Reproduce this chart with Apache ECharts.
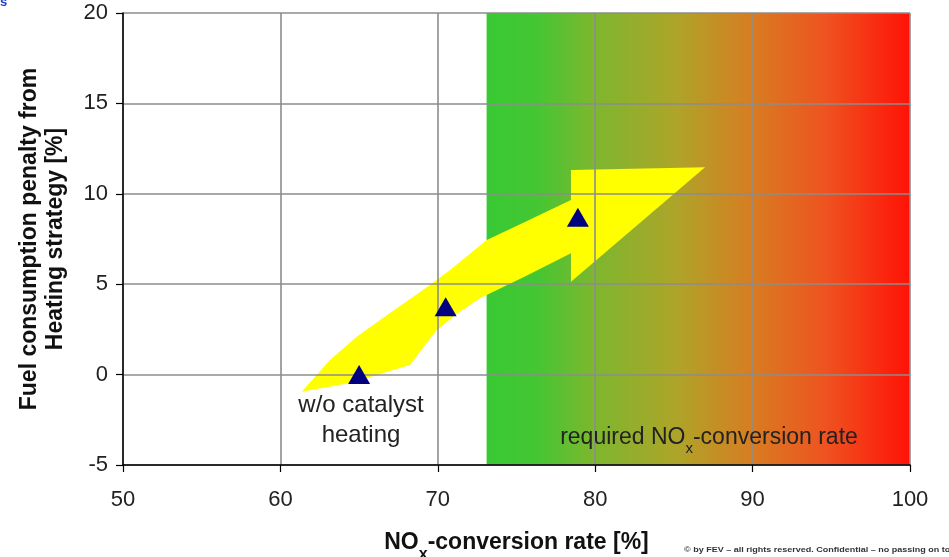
<!DOCTYPE html>
<html>
<head>
<meta charset="utf-8">
<script src="https://cdn.jsdelivr.net/npm/echarts@6/dist/echarts.min.js"></script>
<style>
  html, body { margin: 0; padding: 0; background: #ffffff; }
  #chart { width: 949px; height: 557px; }
</style>
</head>
<body>
<div id="chart"></div>
<script>
// NOx conversion [%] and fuel penalty [%] of the three heating strategies
const noxConversion = [65.0, 70.5, 78.9];
const fuelPenalty = [0.0, 3.75, 8.7];

// axis ranges and ticks
const xTicks = [50, 60, 70, 80, 90, 100];
const yTicks = [-5, 0, 5, 10, 15, 20];

// band of required NOx conversion
const requiredBand = [73.1, 100];

// outline of the trend arrow, in axis units (x: NOx %, y: penalty %)
const arrowX = [61.35, 63.15, 64.85, 66.96, 69.06, 70.78, 73.11, 75.8, 78.46, 78.46, 86.98, 78.46, 78.46, 75.6, 72.68, 71.2, 69.93, 68.23, 64.42];
const arrowY = [-0.95, 0.81, 2.10, 3.41, 4.68, 5.79, 7.44, 8.55, 9.66, 11.32, 11.47, 5.14, 6.71, 5.45, 4.22, 3.35, 2.47, 0.53, -0.46];

const chart = echarts.init(document.getElementById('chart'), null, { renderer: 'canvas' });

const font = 'Liberation Sans, Arial, sans-serif';

chart.setOption({
  animation: false,
  backgroundColor: '#ffffff',
  grid: { left: 123, right: 39, top: 13, bottom: 92, containLabel: false, outerBoundsMode: 'none' },
  xAxis: {
    type: 'value',
    min: xTicks[0], max: xTicks[xTicks.length - 1], interval: 10,
    z: 3,
    axisLine: { onZero: false, lineStyle: { color: '#000', width: 1.5 } },
    axisTick: { show: true, inside: false, length: 7, lineStyle: { color: '#000', width: 1.2 } },
    axisLabel: { margin: 24, fontSize: 22, color: '#222', fontFamily: font },
    splitLine: { show: true, lineStyle: { color: '#8c8c8c', width: 1.6 } },
    name: '{m|NO}{s|x}{m|-conversion rate [%]}',
    nameLocation: 'middle',
    nameGap: 58,
    nameTextStyle: {
      rich: {
        m: { fontSize: 23, fontWeight: 'bold', fontFamily: font, color: '#111', lineHeight: 28, verticalAlign: 'middle' },
        s: { fontSize: 16, fontWeight: 'bold', fontFamily: font, color: '#111', lineHeight: 40, verticalAlign: 'bottom' }
      }
    }
  },
  yAxis: {
    type: 'value',
    min: yTicks[0], max: yTicks[yTicks.length - 1], interval: 5,
    z: 3,
    axisLine: { onZero: false, lineStyle: { color: '#000', width: 1.5 } },
    axisTick: { show: true, inside: false, length: 7, lineStyle: { color: '#000', width: 1.2 } },
    axisLabel: { margin: 15, fontSize: 22, color: '#222', fontFamily: font },
    splitLine: { show: true, lineStyle: { color: '#8c8c8c', width: 1.6 } },
    name: 'Fuel consumption penalty from\nHeating strategy [%]',
    nameLocation: 'middle',
    nameGap: 54,
    nameRotate: 90,
    nameTextStyle: { fontSize: 23, fontWeight: 'bold', fontFamily: font, color: '#111', lineHeight: 26 }
  },
  series: [
    {
      // colour band for the required conversion range
      type: 'line',
      data: [],
      z: 1,
      silent: true,
      markArea: {
        silent: true,
        itemStyle: {
          color: {
            type: 'linear', x: 0, y: 0, x2: 1, y2: 0,
            colorStops: [
              { offset: 0.0, color: '#38c934' },
              { offset: 0.12, color: '#45c633' },
              { offset: 0.25, color: '#7cb72e' },
              { offset: 0.45, color: '#aea429' },
              { offset: 0.62, color: '#d67e22' },
              { offset: 0.8, color: '#ee5320' },
              { offset: 1.0, color: '#ff1206' }
            ]
          }
        },
        data: [[{ xAxis: requiredBand[0], yAxis: yTicks[0] }, { xAxis: requiredBand[1], yAxis: yTicks[yTicks.length - 1] }]]
      }
    },
    {
      // trend arrow
      type: 'custom',
      z: 2,
      silent: true,
      data: [0],
      renderItem: function (params, api) {
        const pts = arrowX.map(function (x, i) { return api.coord([x, arrowY[i]]); });
        return {
          type: 'polygon',
          shape: { points: pts },
          style: { fill: '#ffff00', stroke: null }
        };
      }
    },
    {
      type: 'scatter',
      z: 5,
      symbol: 'triangle',
      symbolSize: [22, 19],
      itemStyle: { color: '#000080', opacity: 1 },
      data: noxConversion.map(function (x, i) { return [x, fuelPenalty[i]]; })
    }
  ],
  graphic: [
    {
      type: 'text', z: 10,
      style: {
        x: 361, y: 420,
        text: 'w/o catalyst\nheating',
        align: 'center', verticalAlign: 'middle',
        font: '24px ' + font,
        fill: '#222',
        lineHeight: 30
      }
    },
    {
      type: 'text', z: 10,
      style: {
        x: 709, y: 438,
        text: '{m|required NO}{s|x}{m|-conversion rate}',
        align: 'center', verticalAlign: 'middle',
        rich: {
          m: { fontSize: 23, fontFamily: font, fill: '#222', lineHeight: 26, verticalAlign: 'middle' },
          s: { fontSize: 15, fontFamily: font, fill: '#222', lineHeight: 36, verticalAlign: 'bottom' }
        }
      }
    },
    {
      type: 'text', z: 10,
      x: 684, y: 550, scaleX: 1.2,
      style: {
        x: 0, y: 0,
        text: '\u00a9 by FEV \u2013 all rights reserved. Confidential \u2013 no passing on to third parties',
        verticalAlign: 'middle',
        font: 'bold 7.5px ' + font,
        fill: '#333'
      }
    },
    {
      type: 'text', z: 10,
      style: {
        x: 0, y: 2,
        text: 's',
        verticalAlign: 'middle',
        font: 'bold 13px ' + font,
        fill: '#2040d0'
      }
    }
  ]
});
</script>
</body>
</html>
